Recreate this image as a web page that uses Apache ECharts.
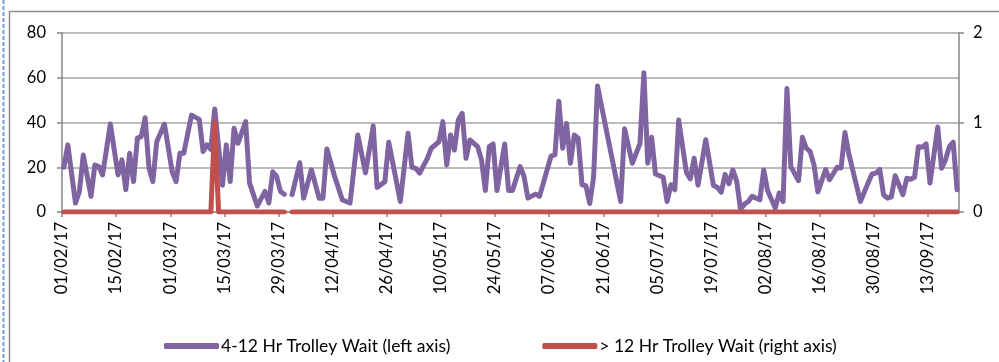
<!DOCTYPE html>
<html>
<head>
<meta charset="utf-8">
<script src="https://cdn.jsdelivr.net/npm/echarts@6/dist/echarts.min.js"></script>
<style>
  html, body { margin: 0; padding: 0; background: #fff; }
  #chart { width: 999px; height: 362px; }
</style>
</head>
<body>
<div id="chart"></div>
<script>
// Daily trolley waits, 01/02/17 – 20/09/17 (dd/mm/yy)
const waitDates = [
  '01/02/17','02/02/17','04/02/17','05/02/17','06/02/17','08/02/17','09/02/17','10/02/17','11/02/17','13/02/17',
  '15/02/17','16/02/17','17/02/17','18/02/17','19/02/17','20/02/17','21/02/17','22/02/17','23/02/17','24/02/17',
  '25/02/17','27/02/17','01/03/17','02/03/17','03/03/17','04/03/17','06/03/17','08/03/17','09/03/17','10/03/17',
  '11/03/17','12/03/17','14/03/17','15/03/17','16/03/17','17/03/17','18/03/17','20/03/17','21/03/17','23/03/17',
  '25/03/17','26/03/17','27/03/17','28/03/17','29/03/17','30/03/17','31/03/17','01/04/17','03/04/17','04/04/17',
  '06/04/17','08/04/17','09/04/17','10/04/17','12/04/17','14/04/17','15/04/17','16/04/17','18/04/17','20/04/17',
  '22/04/17','23/04/17','25/04/17','26/04/17','28/04/17','29/04/17','01/05/17','02/05/17','03/05/17','04/05/17',
  '06/05/17','07/05/17','09/05/17','10/05/17','11/05/17','12/05/17','13/05/17','14/05/17','15/05/17','16/05/17',
  '17/05/17','19/05/17','20/05/17','21/05/17','22/05/17','23/05/17','24/05/17','26/05/17','27/05/17','28/05/17',
  '30/05/17','31/05/17','01/06/17','03/06/17','04/06/17','07/06/17','08/06/17','09/06/17','10/06/17','11/06/17',
  '12/06/17','13/06/17','14/06/17','15/06/17','16/06/17','17/06/17','18/06/17','19/06/17','25/06/17','26/06/17',
  '28/06/17','30/06/17','01/07/17','02/07/17','03/07/17','04/07/17','06/07/17','07/07/17','08/07/17','09/07/17',
  '10/07/17','12/07/17','13/07/17','14/07/17','15/07/17','17/07/17','19/07/17','20/07/17','21/07/17','22/07/17',
  '23/07/17','24/07/17','25/07/17','26/07/17','27/07/17','28/07/17','29/07/17','31/07/17','01/08/17','02/08/17',
  '04/08/17','05/08/17','06/08/17','07/08/17','08/08/17','10/08/17','11/08/17','12/08/17','13/08/17','14/08/17',
  '15/08/17','17/08/17','18/08/17','20/08/17','21/08/17','22/08/17','23/08/17','26/08/17','28/08/17','29/08/17',
  '30/08/17','31/08/17','01/09/17','02/09/17','03/09/17','04/09/17','06/09/17','07/09/17','08/09/17','09/09/17',
  '10/09/17','11/09/17','12/09/17','13/09/17','15/09/17','16/09/17','17/09/17','18/09/17','19/09/17','20/09/17'
];
// 4-12 hour trolley waits (left axis); null = no return that day
const waitValues = [
  20, 30, 4, 9.2, 25.5, 7, 21, 20.3, 16.6, 39.3,
  16.6, 23.3, 10, 26.3, 13.6, 33, 33.7, 42.1, 19.6, 13.6,
  31.4, 39.3, 18, 13.6, 26.3, 26.3, 43.3, 41.4, 27, 30,
  28, 46, 12, 30, 13.6, 37.4, 30.7, 40.4, 13, 2.7,
  9.2, 4, 18, 15.9, 9.2, 7.9, null, 7.8, 22, 6.2,
  18.9, 6.2, 6.2, 28.2, 16, 5.5, 4.7, 4, 34.4, 17.5,
  38.4, 11, 13.5, 31.2, 13.6, 4.7, 35.2, 20, 19.5, 17.4,
  24, 28.5, 31.4, 40.4, 21, 34.4, 27.7, 41.1, 44.1, 24,
  32.2, 29.2, 23.3, 9.6, 29.2, 30.4, 9.6, 30.4, 9.6, 9.6,
  20.3, 15.9, 6.2, 8, 7, 25, 25.5, 49.5, 28.5, 39.6,
  21.8, 34.4, 33, 12.2, 11.8, 3.8, 15.7, 56.3, 4.7, 37.2,
  21.8, 30.7, 62.2, 21.8, 33.4, 17, 15.5, 4.7, 12.2, 9.9,
  41.1, 17.7, 14.8, 24, 12, 32.3, 11.8, 11, 8.8, 16.8,
  12.6, 18.8, 13.8, 1.2, 3.5, 4.7, 7, 5.5, 18.8, 9.5,
  1.8, 8.5, 4.7, 55.2, 20.3, 14, 33.4, 28.5, 27, 21,
  9, 19, 14.4, 20, 19.7, 35.5, 26, 4.7, 13, 17,
  17.4, 19, 7.7, 6.2, 6.8, 16.2, 7.7, 15.1, 14.6, 15.5,
  29.2, 29, 30.4, 13, 38, 19.6, 23.3, 29.2, 31.2, 9.9
];
// Over 12 hour trolley waits (right axis)
const over12Dates = ['01/02/17', '11/03/17', '12/03/17', '13/03/17', '30/03/17', '31/03/17', '01/04/17', '20/09/17'];
const over12Values = [0, 0, 1, 0, 0, null, 0, 0];

const seriesNames = ['4-12 Hr Trolley Wait (left axis)', '> 12 Hr Trolley Wait (right axis)'];
const leftTicks = [0, 20, 40, 60, 80];
const rightTicks = [0, 1, 2];

const DAY = 86400000;
function parseDate(s) {
  const p = s.split('/');
  return Date.UTC(2000 + Number(p[2]), Number(p[1]) - 1, Number(p[0]));
}
const startTime = parseDate(waitDates[0]);
const endTime = parseDate(waitDates[waitDates.length - 1]);
const daySpan = Math.round((endTime - startTime) / DAY) + 1;   // number of day slots
// each day sits in the middle of its own slot on the date axis
function slotPos(s) { return (parseDate(s) - startTime) / DAY + 0.5; }
function fmtDay(v) {
  const d = new Date(startTime + v * DAY);
  const dd = String(d.getUTCDate()).padStart(2, '0');
  const mm = String(d.getUTCMonth() + 1).padStart(2, '0');
  const yy = String(d.getUTCFullYear() % 100).padStart(2, '0');
  return dd + '/' + mm + '/' + yy;
}
function pairs(dates, values) {
  return dates.map((d, i) => [slotPos(d), values[i] == null ? '-' : values[i]]);
}

const FONT = 'Lato, "Liberation Sans", sans-serif';
const AXIS_GREY = '#868686';

const chart = echarts.init(document.getElementById('chart'), null, { renderer: 'canvas' });
chart.setOption({
  animation: false,
  backgroundColor: '#ffffff',
  textStyle: { fontFamily: FONT },
  grid: { left: 62, right: 40, top: 33, bottom: 150 },
  graphic: [
    { type: 'line', shape: { x1: 3.5, y1: 0, x2: 3.5, y2: 362 },
      style: { stroke: '#6f9fd8', lineWidth: 2, lineDash: [4, 2] } },
    { type: 'polyline', shape: { points: [[9.5, 362], [9.5, 11.5], [999, 11.5]] },
      style: { stroke: '#8c8c8c', lineWidth: 1.5, fill: null } }
  ],
  legend: {
    left: 159, top: 332,
    itemWidth: 55, itemHeight: 6, itemGap: 92,
    icon: 'roundRect',
    textStyle: { fontFamily: FONT, fontSize: 17.5, color: '#000', padding: [0, 0, 0, -3] },
    data: seriesNames
  },
  xAxis: {
    type: 'value',
    min: 0, max: daySpan, interval: 14,
    axisLine: { show: true, lineStyle: { color: AXIS_GREY, width: 1.5 } },
    axisTick: { show: true, length: 5, lineStyle: { color: AXIS_GREY, width: 1.5 } },
    splitLine: { show: false },
    axisLabel: {
      rotate: 90, margin: 10, fontSize: 16.5, color: '#000', fontFamily: FONT,
      showMaxLabel: false,
      formatter: v => (v % 14 === 0 ? fmtDay(v) : '')
    }
  },
  yAxis: [
    {
      type: 'value', min: leftTicks[0], max: leftTicks[leftTicks.length - 1], interval: 20,
      position: 'left',
      axisLine: { show: true, lineStyle: { color: AXIS_GREY, width: 1.5 } },
      axisTick: { show: true, length: 5, lineStyle: { color: AXIS_GREY, width: 1.5 } },
      splitLine: { show: true, lineStyle: { color: '#a6a6a6', width: 1.5 } },
      axisLabel: { margin: 16, fontSize: 16.5, color: '#000', fontFamily: FONT }
    },
    {
      type: 'value', min: rightTicks[0], max: rightTicks[rightTicks.length - 1], interval: 1,
      position: 'right',
      axisLine: { show: true, lineStyle: { color: AXIS_GREY, width: 1.5 } },
      axisTick: { show: true, length: 5, lineStyle: { color: AXIS_GREY, width: 1.5 } },
      splitLine: { show: false },
      axisLabel: { margin: 14, fontSize: 16.5, color: '#000', fontFamily: FONT }
    }
  ],
  series: [
    {
      name: seriesNames[0], type: 'line', yAxisIndex: 0,
      data: pairs(waitDates, waitValues),
      showSymbol: false, symbol: 'none', connectNulls: false,
      color: '#8064a2',
      lineStyle: { color: '#8064a2', width: 5, cap: 'round', join: 'round' },
      z: 2
    },
    {
      name: seriesNames[1], type: 'line', yAxisIndex: 1,
      data: pairs(over12Dates, over12Values),
      showSymbol: false, symbol: 'none', connectNulls: false,
      color: '#c0504d',
      lineStyle: { color: '#c0504d', width: 5, cap: 'round', join: 'round' },
      z: 3
    }
  ]
});
</script>
</body>
</html>
